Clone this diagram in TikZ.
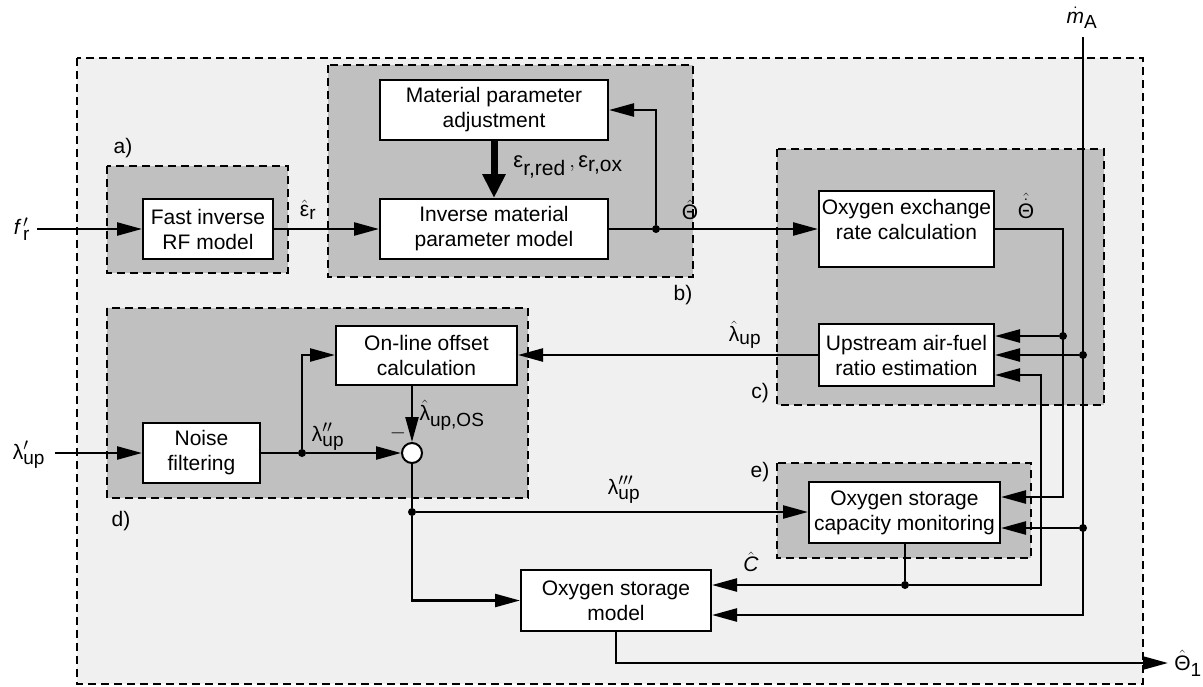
\documentclass[tikz,border=0pt]{standalone}
\usepackage{amsmath}
\usepackage{fontspec}
\setmainfont{Liberation Sans}
\usetikzlibrary{arrows.meta}
\DeclareMathSizes{21}{21}{19}{15}
\DeclareMathSizes{22}{22}{21}{16}
\definecolor{outerbg}{HTML}{F0F0F0}
\definecolor{groupbg}{HTML}{C0C0C0}
\begin{document}
\begin{tikzpicture}[x=1pt,y=-1pt,
  font=\fontsize{21}{25}\selectfont,
  every node/.style={inner sep=0pt},
  dashline/.style={line width=2.6pt, dash pattern=on 8pt off 5pt},
  outerbox/.style={dashline, fill=outerbg},
  grp/.style={dashline, fill=groupbg},
  box/.style={draw, fill=white, line width=2pt, align=center},
  wire/.style={line width=2.4pt},
  arr/.style={wire, -{Triangle[length=25pt,width=13pt]}},
  thickarr/.style={line width=7pt, -{Triangle[length=24pt,width=22pt]}},
  dot/.style={circle, fill=black, minimum size=8pt},
  sumnode/.style={circle, draw, fill=white, line width=2pt, minimum size=20pt},
  lbl/.style={}
]
\useasboundingbox (0,0) rectangle (1203,686);
% outer and group frames
\draw[outerbox] (77,58) rectangle (1143,684);
\draw[grp] (107,166) rectangle (288,273);
\draw[grp] (328,65) rectangle (693,277);
\draw[grp] (777,149) rectangle (1104,405);
\draw[grp] (107,308) rectangle (528,498);
\draw[grp] (777,463) rectangle (1031,558);
\node[lbl] (la) at (123,148) {a)};
\node[lbl] (lb) at (683,295) {b)};
\node[lbl] (lc) at (760,393) {c)};
\node[lbl] (ld) at (121,521) {d)};
\node[lbl] (le) at (760,472) {e)};

% blocks
\node[box, minimum width=130pt, minimum height=60pt] (firf) at (208,229) {Fast inverse\\RF model};
\node[box, minimum width=228pt, minimum height=60pt] (mpa) at (494,110) {Material parameter\\adjustment};
\node[box, minimum width=228pt, minimum height=60pt] (impm) at (494,229) {Inverse material\\parameter model};
\node[box, minimum width=175pt, minimum height=76pt] (oerc) at (906.5,229) {};
\node[align=center] (oerct) at (906.5,219) {Oxygen exchange\\rate calculation};
\node[box, minimum width=175pt, minimum height=62pt] (uafre) at (906.5,355) {Upstream air-fuel\\ratio estimation};
\node[box, minimum width=181pt, minimum height=59pt] (ooc) at (426.5,355) {On-line offset\\calculation};
\node[box, minimum width=117pt, minimum height=60pt] (nf) at (201.5,453) {Noise\\filtering};
\node[box, minimum width=191pt, minimum height=61pt] (oscm) at (904.5,512.5) {Oxygen storage\\capacity monitoring};
\node[box, minimum width=190pt, minimum height=61pt] (osm) at (616,600.5) {Oxygen storage\\model};
\node[sumnode] (sum) at (412,453) {};

% dots and coordinates
\node[dot] (d1) at (656,229) {};
\node[dot] (d2) at (1063,336) {};
\node[dot] (d3) at (1083,355) {};
\node[dot] (d4) at (1083,528) {};
\node[dot] (d5) at (905,585) {};
\node[dot] (d6) at (302,453) {};
\node[dot] (d7) at (412,512) {};
\coordinate (frin) at (37,229);
\coordinate (lin) at (55,453);
\coordinate (thr) at (1063,497);
\coordinate (mtop) at (1083,37);
\coordinate (mbot) at (1083,615);
\coordinate (cin) at (1041,375);
\coordinate (tout) at (1168,663);

% connectors
\draw[arr] (frin) -- (firf);
\draw[arr] (firf) -- (impm);
\draw[wire] (impm) -- (d1);
\draw[arr] (d1) -- (oerc);
\draw[arr] (d1) |- (mpa);
\draw[thickarr] (mpa) -- (impm);
\draw[arr] (oerc.east) -| (thr) -- (oscm.east |- thr);
\draw[arr] (d2) -- (uafre.east |- d2);
\draw[arr] (mtop) -- (mbot) -- (osm.east |- mbot);
\draw[arr] (d3) -- (uafre.east |- d3);
\draw[arr] (d4) -- (oscm.east |- d4);
\draw[wire] (oscm.south -| d5) -- (d5);
\draw[arr] (d5) -- (osm.east |- d5);
\draw[arr] (d5) -| (cin) -- (uafre.east |- cin);
\draw[arr] (uafre.west) -- (ooc.east |- uafre.west);
\draw[arr] (lin) -- (nf);
\draw[wire] (nf) -- (d6);
\draw[arr] (d6) -- (sum);
\draw[arr] (d6) |- (ooc.west);
\draw[arr] (ooc.south -| sum) -- (sum);
\draw[wire] (sum) -- (d7);
\draw[arr] (d7) -- (oscm.west |- d7);
\draw[arr] (d7) |- (osm.west);
\draw[arr] (osm.south) |- (tout);

% signal labels
\node[lbl] (tfr) at (22,229) {$\textit{f}\,'_{\text{r}}$};
\node[lbl] (teps) at (308,210) {$\hat{\text{ε}}_{\text{r}}$};
\node[lbl, font=\fontsize{22}{26}\selectfont] (tepsro) at (568,167) {$\text{ε}_{\text{r,red}}\,,\text{ε}_{\text{r,ox}}$};
\node[lbl] (tth) at (690,210) {$\hat{\text{Θ}}$};
\node[lbl] (tthd) at (1026,206) {$\hat{\dot{\text{Θ}}}$};
\node[lbl] (tma) at (1082,18) {$\dot{\textit{m}}_{\text{A}}$};
\node[lbl] (tlup) at (745,335) {$\hat{\text{λ}}_{\text{up}}$};
\node[lbl] (tl1) at (29,455) {$\text{λ}'_{\text{up}}$};
\node[lbl] (tl2) at (328,437) {$\text{λ}''_{\text{up}}$};
\node[lbl] (tlos) at (452,415) {$\hat{\text{λ}}_{\text{up,OS}}$};
\node[lbl] (tminus) at (398,433) {$-$};
\node[lbl] (tl3) at (624,490) {$\text{λ}'''_{\text{up}}$};
\node[lbl] (tc) at (751,562) {$\hat{\textit{C}}$};
\node[lbl] (tth1) at (1188,663) {$\hat{\text{Θ}}_{\text{1}}$};
\end{tikzpicture}
\end{document}
